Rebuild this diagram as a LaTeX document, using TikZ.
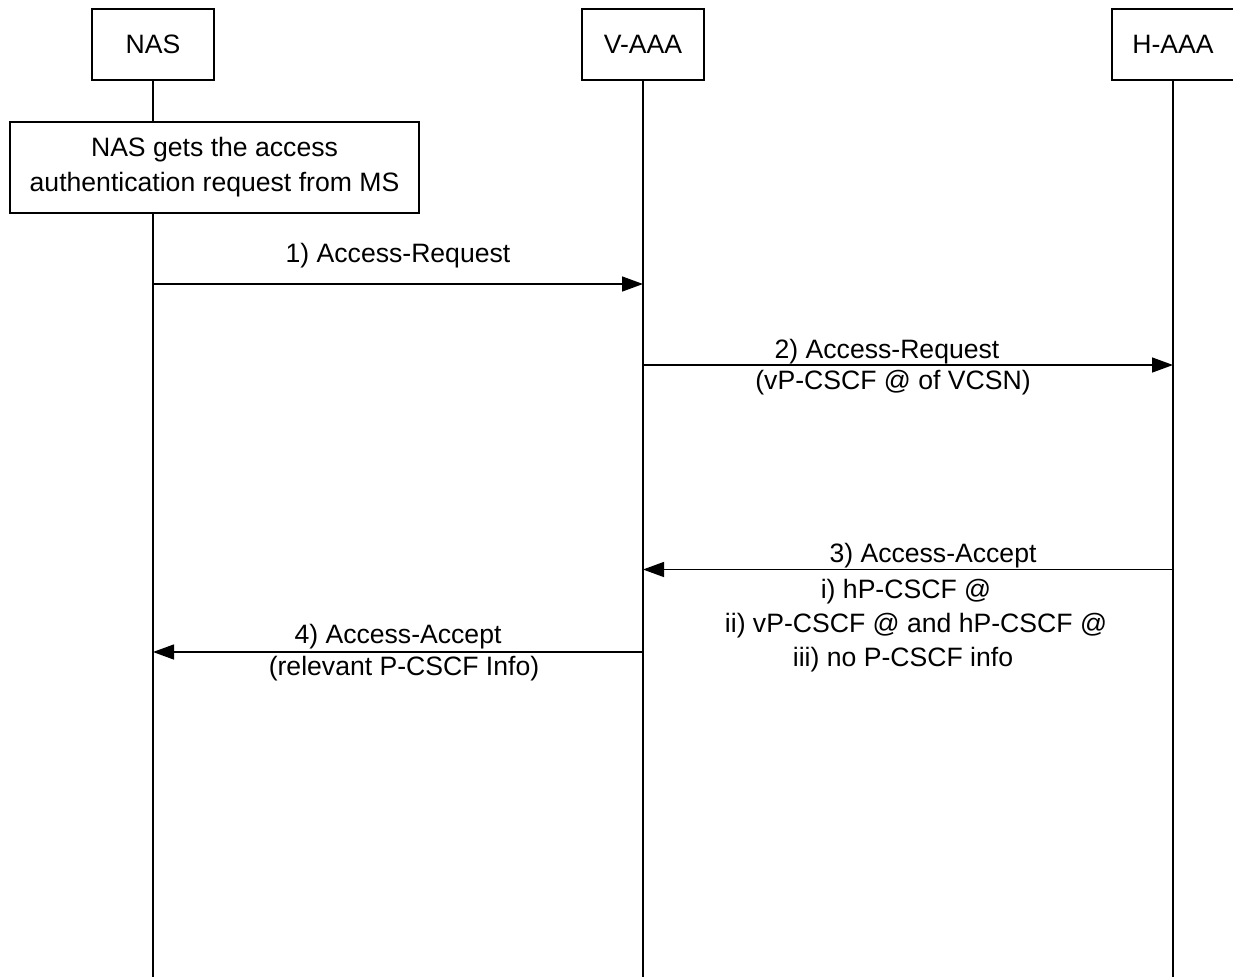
\documentclass[tikz,border=0pt]{standalone}
\usepackage{fontspec}
\setmainfont{Liberation Sans}
\usetikzlibrary{arrows.meta}
\begin{document}
\begin{tikzpicture}[x=1pt,y=-1pt,
  every node/.style={font=\fontsize{26.6}{35}\selectfont},
  actor/.style={draw, line width=1.4pt, minimum width=122pt, minimum height=71pt, inner sep=0pt},
  life/.style={line width=1.4pt},
  msg/.style={line width=1.4pt, -{Triangle[length=21pt,width=15pt]}},
  lbl/.style={anchor=base, inner sep=0pt}]
\clip (0,0) rectangle (1233,977);
\useasboundingbox (0,0) rectangle (1233,977);

% participants
\node[actor] (nas)  at (153,44.5)  {NAS};
\node[actor] (vaaa) at (643,44.5)  {V-AAA};
\node[actor] (haaa) at (1173,44.5) {H-AAA};

% local action of the NAS
\node[draw, line width=1.4pt, minimum width=409pt, minimum height=91pt,
      align=center, inner sep=0pt] (start) at (214.5,167.5)
  {NAS gets the access\\authentication request from MS};

% points where the NAS lifeline meets the action box
\coordinate (startTop) at (153,122);
\coordinate (startBot) at (153,213);

% lifeline ends
\coordinate (nasEnd)  at (153,977);
\coordinate (vaaaEnd) at (643,977);
\coordinate (haaaEnd) at (1173,977);

% lifelines
\draw[life] (nas.south) -- (startTop);
\draw[life] (startBot) -- (nasEnd);
\draw[life] (vaaa.south) -- (vaaaEnd);
\draw[life] (haaa.south) -- (haaaEnd);

% message anchors on the lifelines
\coordinate (m1s) at (153,284);   \coordinate (m1e) at (643,284);
\coordinate (m2s) at (643,365);   \coordinate (m2e) at (1173,365);
\coordinate (m3s) at (1173,569.5);\coordinate (m3e) at (643,569.5);
\coordinate (m4s) at (643,652);   \coordinate (m4e) at (153,652);

% messages
\draw[msg] (m1s) -- (m1e);
\draw[msg] (m2s) -- (m2e);
\draw[msg] (m3s) -- (m3e);
\draw[msg] (m4s) -- (m4e);

% message labels
\node[lbl] (l1)  at (398,262) {1) Access-Request};
\node[lbl] (l2a) at (887,358) {2) Access-Request};
\node[lbl] (l2b) at (893,389) {(vP-CSCF @ of VCSN)};
\node[lbl] (l3a) at (933,562) {3) Access-Accept};
\node[lbl] (l3b) at (906,598) {i) hP-CSCF @};
\node[lbl] (l3c) at (916,632) {ii) vP-CSCF @ and hP-CSCF @};
\node[lbl] (l3d) at (903,666) {iii) no P-CSCF info};
\node[lbl] (l4a) at (398,643) {4) Access-Accept};
\node[lbl] (l4b) at (404,675) {(relevant P-CSCF Info)};
\end{tikzpicture}
\end{document}
